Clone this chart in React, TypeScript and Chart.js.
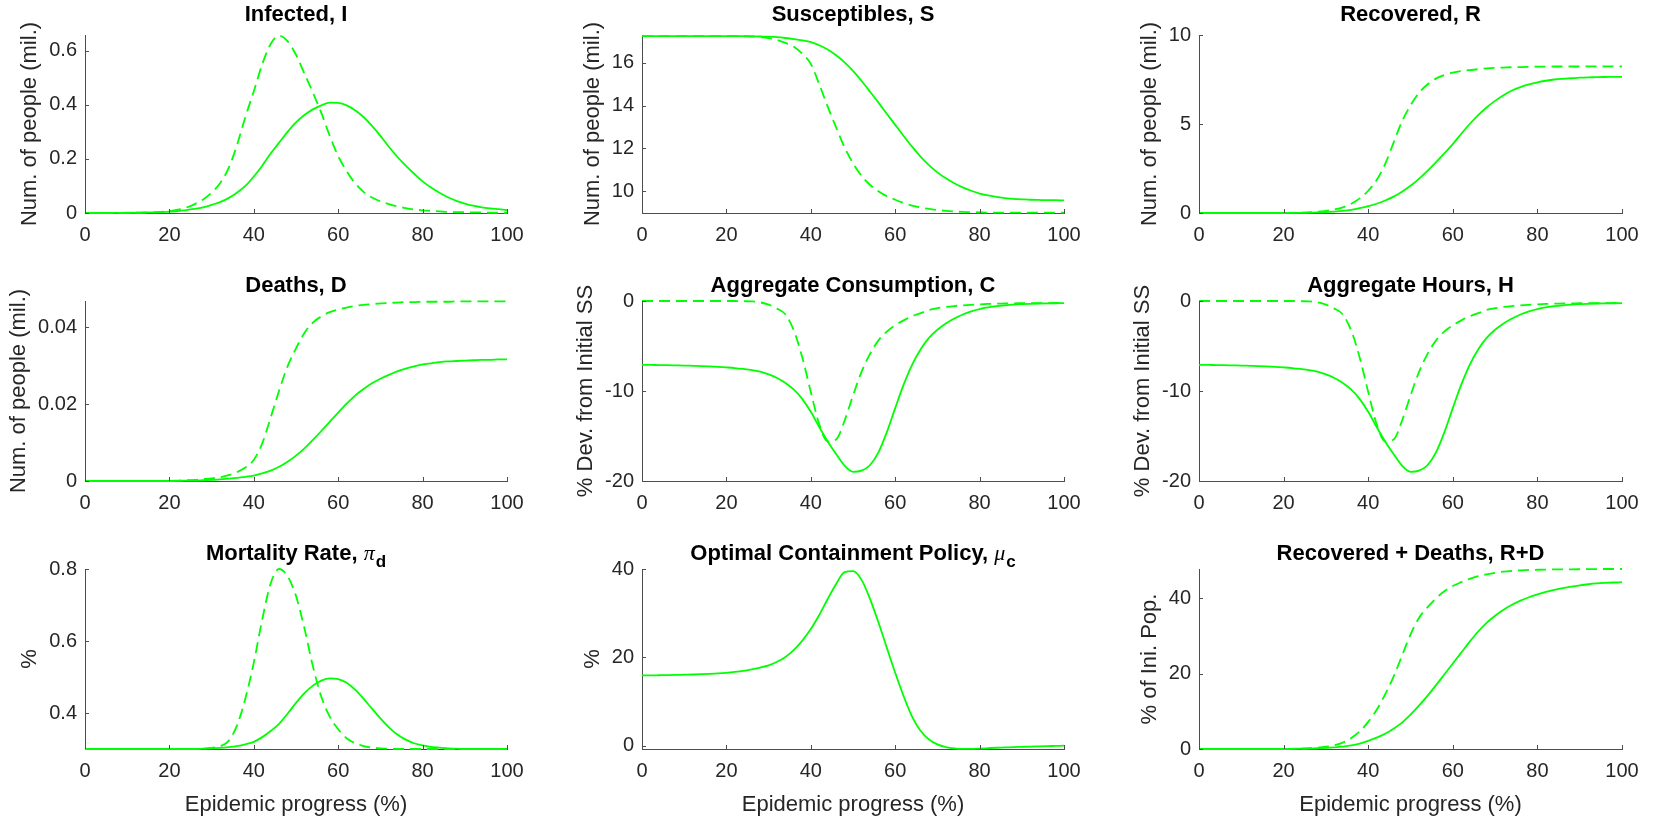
import React, { useEffect, useRef } from "react";
import { Chart, registerables } from "chart.js";

Chart.register(...registerables);

// ---------- data ----------
const PROGRESS = [0, 2, 4, 6, 8, 10, 12, 14, 16, 18, 20, 22, 24, 26, 28, 30, 32, 34, 36, 38, 40, 42, 44, 46, 48, 50, 52, 54, 56, 58, 60, 62, 64, 66, 68, 70, 72, 74, 76, 78, 80, 82, 84, 86, 88, 90, 92, 94, 96, 98, 100];
const X_TICKS = [0, 20, 40, 60, 80, 100];

const INFECTED_SOLID = [0, 0, 0, 0, 0.0005, 0.001, 0.001, 0.002, 0.002, 0.003, 0.005, 0.007, 0.011, 0.015, 0.021, 0.03, 0.04, 0.055, 0.075, 0.1, 0.135, 0.175, 0.22, 0.26, 0.3, 0.335, 0.362, 0.383, 0.398, 0.408, 0.407, 0.398, 0.38, 0.355, 0.322, 0.285, 0.245, 0.208, 0.175, 0.145, 0.117, 0.094, 0.075, 0.058, 0.045, 0.035, 0.027, 0.021, 0.017, 0.014, 0.011];
const INFECTED_DASHED = [0, 0, 0, 0, 0, 0.0005, 0.001, 0.001, 0.002, 0.004, 0.007, 0.012, 0.02, 0.033, 0.05, 0.075, 0.11, 0.165, 0.25, 0.355, 0.45, 0.55, 0.625, 0.655, 0.635, 0.585, 0.515, 0.445, 0.37, 0.285, 0.21, 0.155, 0.11, 0.078, 0.057, 0.043, 0.033, 0.025, 0.018, 0.013, 0.01, 0.008, 0.006, 0.004, 0.003, 0.003, 0.002, 0.002, 0.001, 0.001, 0.001];

const SUSC_SOLID = [17.25, 17.25, 17.25, 17.25, 17.25, 17.25, 17.25, 17.25, 17.25, 17.25, 17.25, 17.25, 17.25, 17.24, 17.23, 17.22, 17.2, 17.16, 17.11, 17.05, 16.97, 16.82, 16.62, 16.35, 16.02, 15.62, 15.16, 14.66, 14.15, 13.62, 13.1, 12.58, 12.08, 11.62, 11.22, 10.88, 10.6, 10.37, 10.18, 10.02, 9.89, 9.8, 9.73, 9.68, 9.64, 9.62, 9.6, 9.59, 9.58, 9.58, 9.57];
const SUSC_DASHED = [17.25, 17.25, 17.25, 17.25, 17.25, 17.25, 17.25, 17.25, 17.25, 17.25, 17.25, 17.25, 17.24, 17.23, 17.2, 17.15, 17.07, 16.93, 16.75, 16.42, 15.95, 15.0, 13.95, 12.98, 12.05, 11.3, 10.72, 10.3, 10.0, 9.77, 9.6, 9.45, 9.33, 9.24, 9.17, 9.12, 9.08, 9.05, 9.03, 9.02, 9.01, 9.0, 9.0, 9.0, 9.0, 9.0, 9.0, 9.0, 9.0, 9.0, 9.0];

const RECOV_SOLID = [0, 0, 0, 0, 0, 0, 0, 0, 0, 0, 0, 0.01, 0.01, 0.02, 0.03, 0.05, 0.08, 0.12, 0.18, 0.27, 0.38, 0.52, 0.7, 0.92, 1.2, 1.53, 1.92, 2.37, 2.85, 3.35, 3.87, 4.45, 5.0, 5.5, 5.93, 6.3, 6.62, 6.88, 7.07, 7.22, 7.34, 7.43, 7.5, 7.54, 7.57, 7.6, 7.62, 7.63, 7.64, 7.65, 7.65];
const RECOV_DASHED = [0, 0, 0, 0, 0, 0, 0, 0, 0, 0, 0, 0.01, 0.02, 0.04, 0.07, 0.12, 0.2, 0.32, 0.52, 0.82, 1.25, 1.85, 2.75, 3.95, 5.15, 6.05, 6.75, 7.22, 7.55, 7.75, 7.88, 7.97, 8.03, 8.08, 8.12, 8.15, 8.17, 8.19, 8.2, 8.21, 8.22, 8.22, 8.23, 8.23, 8.23, 8.23, 8.24, 8.24, 8.24, 8.24, 8.24];

const DEATHS_SOLID = [0, 0, 0, 0, 0, 0, 0, 0, 0, 0, 0, 0.00005, 0.0001, 0.0001, 0.0002, 0.0003, 0.0004, 0.0006, 0.0008, 0.0011, 0.0014, 0.002, 0.0027, 0.0037, 0.005, 0.0066, 0.0085, 0.0107, 0.013, 0.0154, 0.0178, 0.0201, 0.0222, 0.0239, 0.0254, 0.0266, 0.0276, 0.0285, 0.0292, 0.0298, 0.0303, 0.0306, 0.0309, 0.0311, 0.0312, 0.0313, 0.0314, 0.0315, 0.0315, 0.0316, 0.0316];
const DEATHS_DASHED = [0, 0, 0, 0, 0, 0, 0, 0, 0, 0, 0, 0.0001, 0.0002, 0.0003, 0.0005, 0.0007, 0.001, 0.0015, 0.0023, 0.0035, 0.0055, 0.0098, 0.0165, 0.0235, 0.0298, 0.0345, 0.0385, 0.0412, 0.0428, 0.0439, 0.0446, 0.0451, 0.0455, 0.0458, 0.046, 0.0462, 0.0463, 0.0464, 0.0465, 0.0465, 0.0466, 0.0466, 0.0466, 0.0466, 0.0467, 0.0467, 0.0467, 0.0467, 0.0467, 0.0467, 0.0467];

const CONS_SOLID = [-7.1, -7.1, -7.12, -7.13, -7.15, -7.17, -7.2, -7.23, -7.27, -7.32, -7.38, -7.45, -7.55, -7.67, -7.85, -8.15, -8.55, -9.1, -9.85, -10.9, -12.3, -14.0, -15.6, -17.0, -18.3, -18.98, -18.85, -18.25, -16.85, -14.6, -11.9, -9.3, -7.1, -5.4, -4.1, -3.2, -2.5, -1.95, -1.5, -1.15, -0.9, -0.72, -0.58, -0.48, -0.4, -0.35, -0.31, -0.28, -0.26, -0.25, -0.24];
const CONS_DASHED = [0, 0, 0, 0, 0, 0, 0, 0, 0, 0, 0, 0, -0.02, -0.05, -0.15, -0.4, -0.85, -1.5, -3.3, -6.3, -10.1, -13.7, -15.6, -15.4, -13.3, -10.5, -7.9, -5.9, -4.4, -3.4, -2.7, -2.15, -1.7, -1.35, -1.0, -0.8, -0.66, -0.56, -0.48, -0.42, -0.37, -0.33, -0.3, -0.28, -0.26, -0.25, -0.24, -0.23, -0.23, -0.22, -0.22];

const HOURS_SOLID = [-7.1, -7.1, -7.12, -7.13, -7.15, -7.17, -7.2, -7.23, -7.27, -7.32, -7.38, -7.45, -7.55, -7.67, -7.85, -8.15, -8.55, -9.1, -9.85, -10.9, -12.3, -14.0, -15.6, -17.0, -18.3, -18.98, -18.85, -18.25, -16.85, -14.6, -11.9, -9.3, -7.1, -5.4, -4.1, -3.2, -2.5, -1.95, -1.5, -1.15, -0.9, -0.72, -0.58, -0.48, -0.4, -0.35, -0.31, -0.28, -0.26, -0.25, -0.24];
const HOURS_DASHED = [0, 0, 0, 0, 0, 0, 0, 0, 0, 0, 0, 0, -0.02, -0.05, -0.15, -0.4, -0.85, -1.5, -3.3, -6.3, -10.1, -13.7, -15.6, -15.4, -13.3, -10.5, -7.9, -5.9, -4.4, -3.4, -2.7, -2.15, -1.7, -1.35, -1.0, -0.8, -0.66, -0.56, -0.48, -0.42, -0.37, -0.33, -0.3, -0.28, -0.26, -0.25, -0.24, -0.23, -0.23, -0.22, -0.22];

const MORT_SOLID = [0.3, 0.3, 0.3, 0.3, 0.3, 0.3, 0.3, 0.3, 0.3, 0.3, 0.3, 0.3, 0.3, 0.3, 0.301, 0.302, 0.303, 0.305, 0.308, 0.313, 0.32, 0.333, 0.35, 0.37, 0.398, 0.428, 0.455, 0.476, 0.49, 0.496, 0.494, 0.484, 0.465, 0.44, 0.412, 0.385, 0.36, 0.34, 0.326, 0.316, 0.31, 0.306, 0.304, 0.302, 0.301, 0.3, 0.3, 0.3, 0.3, 0.3, 0.3];
const MORT_DASHED = [0.3, 0.3, 0.3, 0.3, 0.3, 0.3, 0.3, 0.3, 0.3, 0.3, 0.3, 0.3, 0.3, 0.3, 0.301, 0.303, 0.308, 0.322, 0.365, 0.44, 0.54, 0.66, 0.76, 0.8, 0.78, 0.725, 0.635, 0.53, 0.445, 0.39, 0.355, 0.33, 0.316, 0.308, 0.304, 0.302, 0.301, 0.3, 0.3, 0.3, 0.3, 0.3, 0.3, 0.3, 0.3, 0.3, 0.3, 0.3, 0.3, 0.3, 0.3];

const POLICY = [15.9, 15.92, 15.95, 15.98, 16.02, 16.07, 16.12, 16.18, 16.26, 16.36, 16.5, 16.7, 16.95, 17.3, 17.7, 18.2, 19.0, 20.1, 21.7, 23.8, 26.4, 29.6, 33.2, 36.6, 39.3, 39.5, 37.6, 33.3, 28.0, 22.2, 16.5, 11.2, 6.6, 3.4, 1.4, 0.3, -0.3, -0.6, -0.72, -0.72, -0.65, -0.56, -0.47, -0.4, -0.32, -0.26, -0.2, -0.15, -0.1, -0.05, 0.0];

const RD_SOLID = [0, 0, 0, 0, 0, 0, 0, 0, 0, 0, 0, 0.05, 0.08, 0.12, 0.2, 0.3, 0.45, 0.65, 0.95, 1.45, 2.15, 3.0, 4.05, 5.4, 7.0, 9.1, 11.5, 14.1, 16.9, 19.8, 22.7, 25.6, 28.5, 31.2, 33.5, 35.4, 37.0, 38.3, 39.4, 40.3, 41.05, 41.7, 42.25, 42.7, 43.1, 43.45, 43.75, 43.98, 44.12, 44.22, 44.3];
const RD_DASHED = [0, 0, 0, 0, 0, 0, 0, 0, 0, 0, 0, 0.05, 0.1, 0.2, 0.35, 0.6, 1.0, 1.7, 2.9, 4.7, 7.2, 10.4, 14.5, 19.2, 24.8, 30.4, 34.8, 37.6, 40.0, 41.9, 43.3, 44.3, 45.2, 45.9, 46.4, 46.8, 47.1, 47.3, 47.45, 47.55, 47.6, 47.65, 47.7, 47.7, 47.72, 47.74, 47.76, 47.78, 47.8, 47.8, 47.8];

const Y_TICKS_I = [0, 0.2, 0.4, 0.6];
const Y_TICKS_S = [10, 12, 14, 16];
const Y_TICKS_R = [0, 5, 10];
const Y_TICKS_D = [0, 0.02, 0.04];
const Y_TICKS_DEV = [-20, -10, 0];
const Y_TICKS_MORT = [0.4, 0.6, 0.8];
const Y_TICKS_POLICY = [0, 20, 40];
const Y_TICKS_RD = [0, 20, 40];

// ---------- styling / layout ----------
const FONT = '"Liberation Sans", Arial, Helvetica, sans-serif';
const TICK_SIZE = 20;
const LABEL_SIZE = 22;
const TITLE_SIZE = 22;
const TEXT_COLOR = "#262626";
const AXIS_COLOR = "#4d4d4d";
const GREEN = "#00ff00";
const DASH = [11, 6];

const COLS = [
  { left: 85, right: 507 },
  { left: 642, right: 1064 },
  { left: 1199, right: 1622 },
];
const ROWS = [
  { top: 35, bottom: 213, titleGap: 22 },
  { top: 301, bottom: 481, titleGap: 17 },
  { top: 569, bottom: 749, titleGap: 17 },
];
const PADL = 80;
const PADT = 35;
const PADR = 32;
const PADB = 72;

type PanelSpec = {
  title: string;
  symbol?: string;
  sub?: string;
  yLabel: string;
  xLabel?: string;
  yMin: number;
  yMax: number;
  yTicks: number[];
  solid: number[];
  dashed?: number[];
  col: number;
  row: number;
};

const PANELS: PanelSpec[] = [
  { title: "Infected, I", yLabel: "Num. of people (mil.)", yMin: 0, yMax: 0.658, yTicks: Y_TICKS_I, solid: INFECTED_SOLID, dashed: INFECTED_DASHED, col: 0, row: 0 },
  { title: "Susceptibles, S", yLabel: "Num. of people (mil.)", yMin: 8.98, yMax: 17.3, yTicks: Y_TICKS_S, solid: SUSC_SOLID, dashed: SUSC_DASHED, col: 1, row: 0 },
  { title: "Recovered, R", yLabel: "Num. of people (mil.)", yMin: 0, yMax: 10, yTicks: Y_TICKS_R, solid: RECOV_SOLID, dashed: RECOV_DASHED, col: 2, row: 0 },
  { title: "Deaths, D", yLabel: "Num. of people (mil.)", yMin: 0, yMax: 0.0468, yTicks: Y_TICKS_D, solid: DEATHS_SOLID, dashed: DEATHS_DASHED, col: 0, row: 1 },
  { title: "Aggregate Consumption, C", yLabel: "% Dev. from Initial SS", yMin: -20, yMax: 0, yTicks: Y_TICKS_DEV, solid: CONS_SOLID, dashed: CONS_DASHED, col: 1, row: 1 },
  { title: "Aggregate Hours, H", yLabel: "% Dev. from Initial SS", yMin: -20, yMax: 0, yTicks: Y_TICKS_DEV, solid: HOURS_SOLID, dashed: HOURS_DASHED, col: 2, row: 1 },
  { title: "Mortality Rate, ", symbol: "\u03c0", sub: "d", yLabel: "%", xLabel: "Epidemic progress (%)", yMin: 0.3, yMax: 0.8, yTicks: Y_TICKS_MORT, solid: MORT_SOLID, dashed: MORT_DASHED, col: 0, row: 2 },
  { title: "Optimal Containment Policy, ", symbol: "\u03bc", sub: "c", yLabel: "%", xLabel: "Epidemic progress (%)", yMin: -0.75, yMax: 40, yTicks: Y_TICKS_POLICY, solid: POLICY, col: 1, row: 2 },
  { title: "Recovered + Deaths, R+D", yLabel: "% of Ini. Pop.", xLabel: "Epidemic progress (%)", yMin: 0, yMax: 47.8, yTicks: Y_TICKS_RD, solid: RD_SOLID, dashed: RD_DASHED, col: 2, row: 2 },
];

function fmt(v: number): string {
  return String(Math.round(v * 10000) / 10000);
}

function geometry(p: PanelSpec) {
  const c = COLS[p.col];
  const r = ROWS[p.row];
  const plotH = r.bottom - r.top;
  return {
    left: c.left - PADL,
    top: r.top - PADT,
    w: c.right - c.left + PADL + PADR,
    h: PADT + plotH + PADB,
    titleGap: r.titleGap,
  };
}

function decorPlugin(p: PanelSpec) {
  const g = geometry(p);
  return {
    id: "decor",
    afterDraw(chart: any) {
      const ctx = chart.ctx as CanvasRenderingContext2D;
      const a = chart.chartArea;
      const xs = chart.scales.x;
      const ys = chart.scales.y;
      ctx.save();
      // inward tick marks (MATLAB style)
      ctx.strokeStyle = AXIS_COLOR;
      ctx.lineWidth = 1;
      ctx.beginPath();
      for (const t of X_TICKS) {
        const px = Math.round(xs.getPixelForValue(t)) + 0.5;
        ctx.moveTo(px, a.bottom);
        ctx.lineTo(px, a.bottom - 4);
      }
      for (const t of p.yTicks) {
        const py = Math.round(ys.getPixelForValue(t)) + 0.5;
        ctx.moveTo(a.left, py);
        ctx.lineTo(a.left + 4, py);
      }
      ctx.stroke();

      // title (with optional greek symbol + subscript)
      const cx = (a.left + a.right) / 2;
      const mainFont = `bold ${TITLE_SIZE}px ${FONT}`;
      const symFont = `italic ${TITLE_SIZE}px "Liberation Serif", "DejaVu Serif", serif`;
      const subFont = `bold ${Math.round(TITLE_SIZE * 0.75)}px ${FONT}`;
      ctx.font = mainFont;
      const w1 = ctx.measureText(p.title).width;
      let w2 = 0;
      let w3 = 0;
      if (p.symbol) {
        ctx.font = symFont;
        w2 = ctx.measureText(p.symbol).width + 1;
        ctx.font = subFont;
        w3 = ctx.measureText(p.sub || "").width;
      }
      const base = a.top - g.titleGap + TITLE_SIZE * 0.358;
      let x = cx - (w1 + w2 + w3) / 2;
      ctx.fillStyle = "#000";
      ctx.textAlign = "left";
      ctx.textBaseline = "alphabetic";
      ctx.font = mainFont;
      ctx.fillText(p.title, x, base);
      x += w1;
      if (p.symbol) {
        ctx.font = symFont;
        ctx.fillText(p.symbol, x, base);
        x += w2;
        ctx.font = subFont;
        ctx.fillText(p.sub || "", x, base + 7);
      }

      // y label
      ctx.font = `${TICK_SIZE}px ${FONT}`;
      let maxW = 0;
      for (const t of p.yTicks) maxW = Math.max(maxW, ctx.measureText(fmt(t)).width);
      const lx = a.left - 8 - maxW - 8 - LABEL_SIZE * 0.5;
      ctx.translate(lx, (a.top + a.bottom) / 2);
      ctx.rotate(-Math.PI / 2);
      ctx.font = `${LABEL_SIZE}px ${FONT}`;
      ctx.fillStyle = TEXT_COLOR;
      ctx.textAlign = "center";
      ctx.textBaseline = "middle";
      ctx.fillText(p.yLabel, 0, 0);
      ctx.restore();

      // x label
      if (p.xLabel) {
        ctx.save();
        ctx.font = `${LABEL_SIZE}px ${FONT}`;
        ctx.fillStyle = TEXT_COLOR;
        ctx.textAlign = "center";
        ctx.textBaseline = "middle";
        ctx.fillText(p.xLabel, cx, a.bottom + 56);
        ctx.restore();
      }
    },
  };
}

function buildConfig(p: PanelSpec): any {
  const datasets: any[] = [
    {
      data: PROGRESS.map((x, i) => ({ x, y: p.solid[i] })),
      borderColor: GREEN,
      borderWidth: 1.8,
      pointRadius: 0,
      cubicInterpolationMode: "monotone",
      fill: false,
      clip: 4,
    },
  ];
  if (p.dashed) {
    datasets.push({
      data: PROGRESS.map((x, i) => ({ x, y: (p.dashed as number[])[i] })),
      borderColor: GREEN,
      borderWidth: 1.8,
      borderDash: DASH,
      pointRadius: 0,
      cubicInterpolationMode: "monotone",
      fill: false,
      clip: 4,
    });
  }
  const tickFont = { family: FONT, size: TICK_SIZE };
  return {
    type: "line",
    data: { datasets },
    options: {
      animation: false,
      responsive: false,
      maintainAspectRatio: false,
      devicePixelRatio: 1,
      events: [],
      layout: { padding: { top: PADT, right: PADR, left: 0, bottom: 0 } },
      plugins: { legend: { display: false }, tooltip: { enabled: false }, title: { display: false } },
      scales: {
        x: {
          type: "linear",
          min: 0,
          max: 100,
          afterBuildTicks: (s: any) => {
            s.ticks = X_TICKS.map((v) => ({ value: v }));
          },
          afterFit: (s: any) => {
            s.height = PADB;
          },
          grid: { display: true, drawOnChartArea: false, drawTicks: false },
          border: { display: true, color: AXIS_COLOR, width: 1 },
          ticks: { padding: 10, color: TEXT_COLOR, font: tickFont, maxRotation: 0, autoSkip: false, callback: (v: number) => fmt(v) },
        },
        y: {
          type: "linear",
          min: p.yMin,
          max: p.yMax,
          afterBuildTicks: (s: any) => {
            s.ticks = p.yTicks.map((v) => ({ value: v }));
          },
          afterFit: (s: any) => {
            s.width = PADL;
          },
          grid: { display: true, drawOnChartArea: false, drawTicks: false },
          border: { display: true, color: AXIS_COLOR, width: 1 },
          ticks: { padding: 8, color: TEXT_COLOR, font: tickFont, autoSkip: false, callback: (v: number) => fmt(v) },
        },
      },
    },
    plugins: [decorPlugin(p)],
  };
}

function Panel({ spec }: { spec: PanelSpec }) {
  const ref = useRef<HTMLCanvasElement | null>(null);
  const g = geometry(spec);
  useEffect(() => {
    if (!ref.current) return;
    const chart = new Chart(ref.current, buildConfig(spec));
    return () => chart.destroy();
  }, [spec]);
  return (
    <canvas
      ref={ref}
      width={g.w}
      height={g.h}
      style={{ position: "absolute", left: g.left, top: g.top, width: g.w, height: g.h }}
    />
  );
}

export default function App() {
  return (
    <div style={{ position: "absolute", left: 0, top: 0, width: 1657, height: 822, background: "#fff", overflow: "hidden" }}>
      {PANELS.map((p, i) => (
        <Panel key={i} spec={p} />
      ))}
    </div>
  );
}
